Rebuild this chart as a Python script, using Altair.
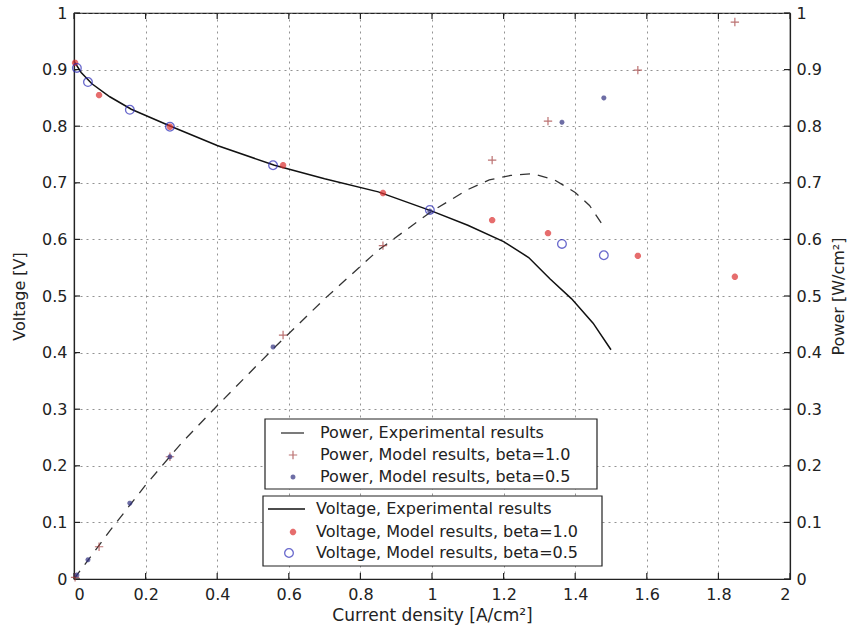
import altair as alt
import pandas as pd

# Experimental voltage curve
exp_I = [0, 0.02, 0.05, 0.10, 0.16, 0.27, 0.40, 0.56, 0.70, 0.85, 1.00, 1.10, 1.20, 1.27, 1.33, 1.39, 1.45, 1.50]
exp_V = [0.915, 0.895, 0.875, 0.852, 0.830, 0.800, 0.766, 0.731, 0.707, 0.684, 0.650, 0.625, 0.596, 0.568, 0.530, 0.495, 0.452, 0.405]

# Experimental power curve
pexp_I = [0, 0.10, 0.20, 0.30, 0.40, 0.56, 0.70, 0.85, 1.00, 1.10, 1.16, 1.22, 1.28, 1.34, 1.40, 1.44, 1.48]
pexp_P = [0, 0.085, 0.166, 0.240, 0.306, 0.409, 0.495, 0.581, 0.650, 0.688, 0.705, 0.713, 0.716, 0.706, 0.683, 0.660, 0.622]

# Model results, beta = 1.0
b1_I = [0.003, 0.07, 0.268, 0.584, 0.863, 1.168, 1.324, 1.575, 1.846]
b1_V = [0.912, 0.855, 0.799, 0.731, 0.682, 0.634, 0.611, 0.571, 0.534]
b1_P = [0.003, 0.057, 0.216, 0.431, 0.589, 0.740, 0.809, 0.899, 0.984]

# Model results, beta = 0.5
b05_I = [0.008, 0.039, 0.156, 0.268, 0.556, 0.994, 1.363, 1.480]
b05_V = [0.903, 0.878, 0.829, 0.799, 0.731, 0.652, 0.592, 0.572]
b05_P = [0.007, 0.034, 0.134, 0.216, 0.410, 0.650, 0.807, 0.850]

x_ticks = [0, 0.2, 0.4, 0.6, 0.8, 1.0, 1.2, 1.4, 1.6, 1.8, 2.0]
y_ticks = [0, 0.1, 0.2, 0.3, 0.4, 0.5, 0.6, 0.7, 0.8, 0.9, 1.0]

legend_power = ["Power, Experimental results", "Power, Model results, beta=1.0", "Power, Model results, beta=0.5"]
legend_voltage = ["Voltage, Experimental results", "Voltage, Model results, beta=1.0", "Voltage, Model results, beta=0.5"]

FONT = "DejaVu Sans"
RED = "#dc3030"
BLUE = "#2a2ab8"
W, H = 716, 566
PLUS = "M-1,0L1,0M0,-1L0,1"
STAR = "M-1,0L1,0M0,-1L0,1M-0.7,-0.7L0.7,0.7M-0.7,0.7L0.7,-0.7"

common = dict(labelFontSize=16, labelFont=FONT, titleFont=FONT,
              labelColor="#222", titleColor="#222", titleFontWeight="normal",
              domainColor="#222", domainWidth=1.2, ticks=False)

xaxis = alt.Axis(values=x_ticks, format="~g", title="Current density [A/cm²]", grid=True,
                 gridDash=[2, 4], gridColor="#777", gridWidth=0.8, titleFontSize=17,
                 labelPadding=7, titlePadding=5, **common)
yaxisL = alt.Axis(values=y_ticks, format="~g", title="Voltage [V]", grid=True,
                  gridDash=[2, 4], gridColor="#777", gridWidth=0.8, titleFontSize=16,
                  labelPadding=7, titlePadding=14, **common)
yaxisR = alt.Axis(values=y_ticks, format="~g", title="Power [W/cm²]", grid=False, orient="right",
                  titleAngle=270, titleFontSize=16, labelPadding=6, titlePadding=25, **common)

xs = alt.Scale(domain=[0, 2], nice=False)
ys = alt.Scale(domain=[0, 1], nice=False)

def X(f):
    return alt.X(f"{f}:Q", scale=xs, axis=xaxis)

def YL(f):
    return alt.Y(f"{f}:Q", scale=ys, axis=yaxisL)

def YR(f):
    return alt.Y(f"{f}:Q", scale=ys, axis=yaxisR)

df_v = pd.DataFrame({"I": exp_I, "V": exp_V})
df_p = pd.DataFrame({"I": pexp_I, "P": pexp_P})
df_b1 = pd.DataFrame({"I": b1_I, "V": b1_V, "P": b1_P})
df_b05 = pd.DataFrame({"I": b05_I, "V": b05_V, "P": b05_P})
df_xt = pd.DataFrame({"I": x_ticks})
df_yt = pd.DataFrame({"V": y_ticks})

v_line = alt.Chart(df_v).mark_line(color="#111", strokeWidth=1.5).encode(x=X("I"), y=YL("V"))
v_b1 = alt.Chart(df_b1).mark_point(shape=STAR, size=40, color=RED, strokeWidth=2.2, filled=False).encode(x=X("I"), y=YL("V"))
v_b05 = alt.Chart(df_b05).mark_point(shape="circle", size=75, color=BLUE, strokeWidth=1.3, filled=False).encode(x=X("I"), y=YL("V"))

tick_b = alt.Chart(df_xt).mark_rule(color="#222", strokeWidth=1.2).encode(x=X("I"), y=alt.value(H), y2=alt.value(H - 6))
tick_t = alt.Chart(df_xt).mark_rule(color="#222", strokeWidth=1.2).encode(x=X("I"), y=alt.value(0), y2=alt.value(6))
tick_l = alt.Chart(df_yt).mark_rule(color="#222", strokeWidth=1.2).encode(y=YL("V"), x=alt.value(0), x2=alt.value(6))
tick_r = alt.Chart(df_yt).mark_rule(color="#222", strokeWidth=1.2).encode(y=YL("V"), x=alt.value(W), x2=alt.value(W - 6))

volt_layer = alt.layer(tick_b, tick_t, tick_l, tick_r, v_line, v_b1, v_b05)

p_line = alt.Chart(df_p).mark_line(color="#333", strokeWidth=1.3, strokeDash=[10, 8]).encode(x=X("I"), y=YR("P"))
p_b1 = alt.Chart(df_b1).mark_point(shape=PLUS, size=70, color="#a03838", strokeWidth=1.2, filled=False).encode(x=X("I"), y=YR("P"))
p_b05 = alt.Chart(df_b05).mark_point(shape=STAR, size=25, color="#303080", strokeWidth=1.6, filled=False).encode(x=X("I"), y=YR("P"))

power_layer = alt.layer(p_line, p_b1, p_b05)

# Legend boxes (drawn in pixel space)
one = pd.DataFrame({"a": [0]})

def box(x1, x2, y1, y2):
    return alt.Chart(one).mark_rect(fill="white", stroke="#222", strokeWidth=1.2).encode(
        x=alt.value(x1), x2=alt.value(x2), y=alt.value(y1), y2=alt.value(y2))

def txt(x, y, s):
    return alt.Chart(one).mark_text(align="left", baseline="middle", font=FONT, fontSize=16, color="#222").encode(
        x=alt.value(x), y=alt.value(y), text=alt.value(s))

leg = [
    box(191, 523, 406, 476),
    alt.Chart(one).mark_rule(color="#333", strokeWidth=1.3).encode(x=alt.value(207), x2=alt.value(230), y=alt.value(420)),
    alt.Chart(one).mark_point(shape=PLUS, size=70, color="#a03838", strokeWidth=1.2, filled=False).encode(x=alt.value(219), y=alt.value(442)),
    alt.Chart(one).mark_point(shape=STAR, size=25, color="#303080", strokeWidth=1.6, filled=False).encode(x=alt.value(219), y=alt.value(464)),
    txt(246, 420, legend_power[0]),
    txt(246, 442, legend_power[1]),
    txt(246, 464, legend_power[2]),
    box(189, 528, 483, 553),
    alt.Chart(one).mark_rule(color="#111", strokeWidth=1.5).encode(x=alt.value(194), x2=alt.value(231), y=alt.value(496)),
    alt.Chart(one).mark_point(shape=STAR, size=40, color=RED, strokeWidth=2.2, filled=False).encode(x=alt.value(219), y=alt.value(519)),
    alt.Chart(one).mark_point(shape="circle", size=75, color=BLUE, strokeWidth=1.3, filled=False).encode(x=alt.value(215), y=alt.value(540)),
    txt(242, 496, legend_voltage[0]),
    txt(242, 519, legend_voltage[1]),
    txt(242, 540, legend_voltage[2]),
]
legend_layer = alt.layer(*leg)

chart = alt.layer(volt_layer, power_layer, legend_layer).resolve_scale(y="independent").properties(
    width=W, height=H,
    autosize=alt.AutoSizeParams(type="none"),
    padding={"left": 74, "top": 13, "right": 61, "bottom": 58},
    background="white",
).configure_view(stroke="#222", strokeWidth=1.2)

chart.save("out.html", embed_options={"renderer": "svg", "actions": False})
